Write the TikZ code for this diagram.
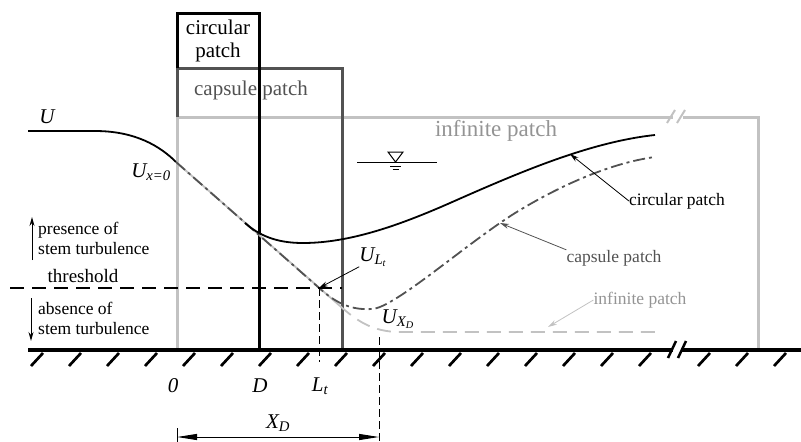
\documentclass[tikz,border=0pt]{standalone}
\usepackage{fontspec}
\setmainfont{Liberation Serif}
\usepackage{xcolor}
\usetikzlibrary{arrows.meta,calc}
\definecolor{capgray}{gray}{0.32}
\definecolor{infgray}{gray}{0.76}
\definecolor{inftext}{gray}{0.58}

\begin{document}
\begin{tikzpicture}[
  x=1pt, y=-1pt,
  patch/.style={line width=3pt},
  flow/.style={line width=1.8pt},
  txt/.style={font=\fontsize{17.5}{20}\selectfont, inner sep=0pt},
  head/.style={font=\fontsize{21}{23}\selectfont, inner sep=0pt, align=center},
  var/.style={font=\fontsize{21}{23}\selectfont\itshape, inner sep=0pt},
  ptr/.style={-{Stealth[length=9pt,width=5pt]}, line width=0.8pt},
  updown/.style={-{Stealth[length=9pt,width=5pt]}, line width=1pt},
  guide/.style={line width=1pt, dash pattern=on 8pt off 4pt},
  >=Stealth
]
  \useasboundingbox (0,0) rectangle (801,442);

  % patch outlines
  \node[head] (hcirc) at (218,41) {circular\\patch};
  \node[head, text=capgray] (hcaps) at (251,90) {capsule patch};
  \node[head, text=inftext, font=\fontsize{23}{25}\selectfont] (hinf) at (496,131) {infinite patch};
  \draw[patch, infgray] (177,350) |- (673,117);
  \draw[patch, infgray] (683,117) -| (758,350);
  \draw[line width=2pt, infgray] (667,123) -- (675,110) (677,123) -- (685,110);
  \draw[patch, capgray] (177,117) |- (342,68) -- (342,350);
  \draw[patch] (177,68) |- (259,13) -- (259,350);

  % ground
  \draw[line width=3.5pt] (28,350) -- (673,350) (681,350) -- (801,350);
  \draw[line width=2.5pt] (668,358) -- (676,341) (678,358) -- (686,341);
  \foreach \x in {43,81,...,651,710,748,786}
    \draw[line width=2.7pt] (\x,353) -- ++(-12,13);

  % water surface
  \draw[line width=1pt] (357,162) -- (437,162);
  \draw[line width=1pt] (388,152) -- (403,152) -- (395.5,162) -- cycle;
  \draw[line width=1pt] (390,166) -- (401,166) (392.5,169.5) -- (398.5,169.5);

  % velocity profiles
  \coordinate (x0) at (176,162);
  \coordinate (cross) at (319,288);
  \draw[flow] (28,131) -- (95,131) .. controls (135,131) and (160,146) .. (x0);
  \draw[flow, infgray] (x0) -- (340,306);
  \draw[flow, infgray, dash pattern=on 14pt off 8pt] (340,306)
    .. controls (356,320) and (372,332) .. (400,332) -- (655,332);
  \draw[flow, capgray, dash pattern=on 12pt off 4pt on 3pt off 4pt] (x0) -- (322,290.5)
    .. controls (340,306) and (355,310) .. (372,309)
    .. controls (395,308) and (470,240) .. (520,210)
    .. controls (560,186) and (610,163) .. (655,157);
  \draw[flow] (245,223) .. controls (263,239) and (283,243) .. (303,243)
    .. controls (350,243) and (400,225) .. (450,203)
    .. controls (520,172) and (590,142) .. (655,135);

  % threshold and distances
  \draw[line width=1.6pt, dash pattern=on 14pt off 8pt] (10,288) -- (342,288);
  \draw[guide] (cross) -- (319,362);
  \draw[guide] (379,337) -- (379,442);
  \draw[line width=1pt] (177,428) -- (177,442);
  \draw[{Triangle[length=20pt,width=6pt]}-{Triangle[length=20pt,width=6pt]}, line width=1pt]
    (177,437) -- (379,437);

  % labels
  \node[var] (u) at (47,117) {U};
  \node[var] (ux0) at (151,172) {U\textsubscript{x=0}};
  \node[var] (ult) at (373,257) {U\textsubscript{L\textsubscript{t}}};
  \node[var] (uxd) at (398,319) {U\textsubscript{X\textsubscript{D}}};
  \draw[ptr] (ult.south west) -- (cross);
  \node[var] (o) at (173,386) {0};
  \node[var] (d) at (260,386) {D};
  \node[var] (lt) at (320,386) {L\textsubscript{t}};
  \node[var] (xd) at (278,423) {X\textsubscript{D}};

  \node[txt, align=left, anchor=west] (pres) at (38,238) {presence of\\stem turbulence};
  \node[txt, font=\fontsize{19}{21}\selectfont] (thr) at (83,276) {threshold};
  \node[txt, align=left, anchor=west] (abs) at (38,318) {absence of\\stem turbulence};
  \draw[updown] (32,260) -- (32,217);
  \draw[updown] (31,298) -- (31,341);

  \node[txt] (lcirc) at (677,201) {circular patch};
  \node[txt, text=capgray] (lcaps) at (614,258) {capsule patch};
  \node[txt, text=inftext] (linf) at (640,300) {infinite patch};
  \coordinate (pcirc) at (570,154);
  \coordinate (pcaps) at (500,223);
  \coordinate (pinf) at (548,327);
  \draw[ptr] (lcirc.west) -- (pcirc);
  \draw[ptr, capgray] (lcaps.north west) -- (pcaps);
  \draw[ptr, infgray] (linf.west) -- (pinf);
\end{tikzpicture}
\end{document}
